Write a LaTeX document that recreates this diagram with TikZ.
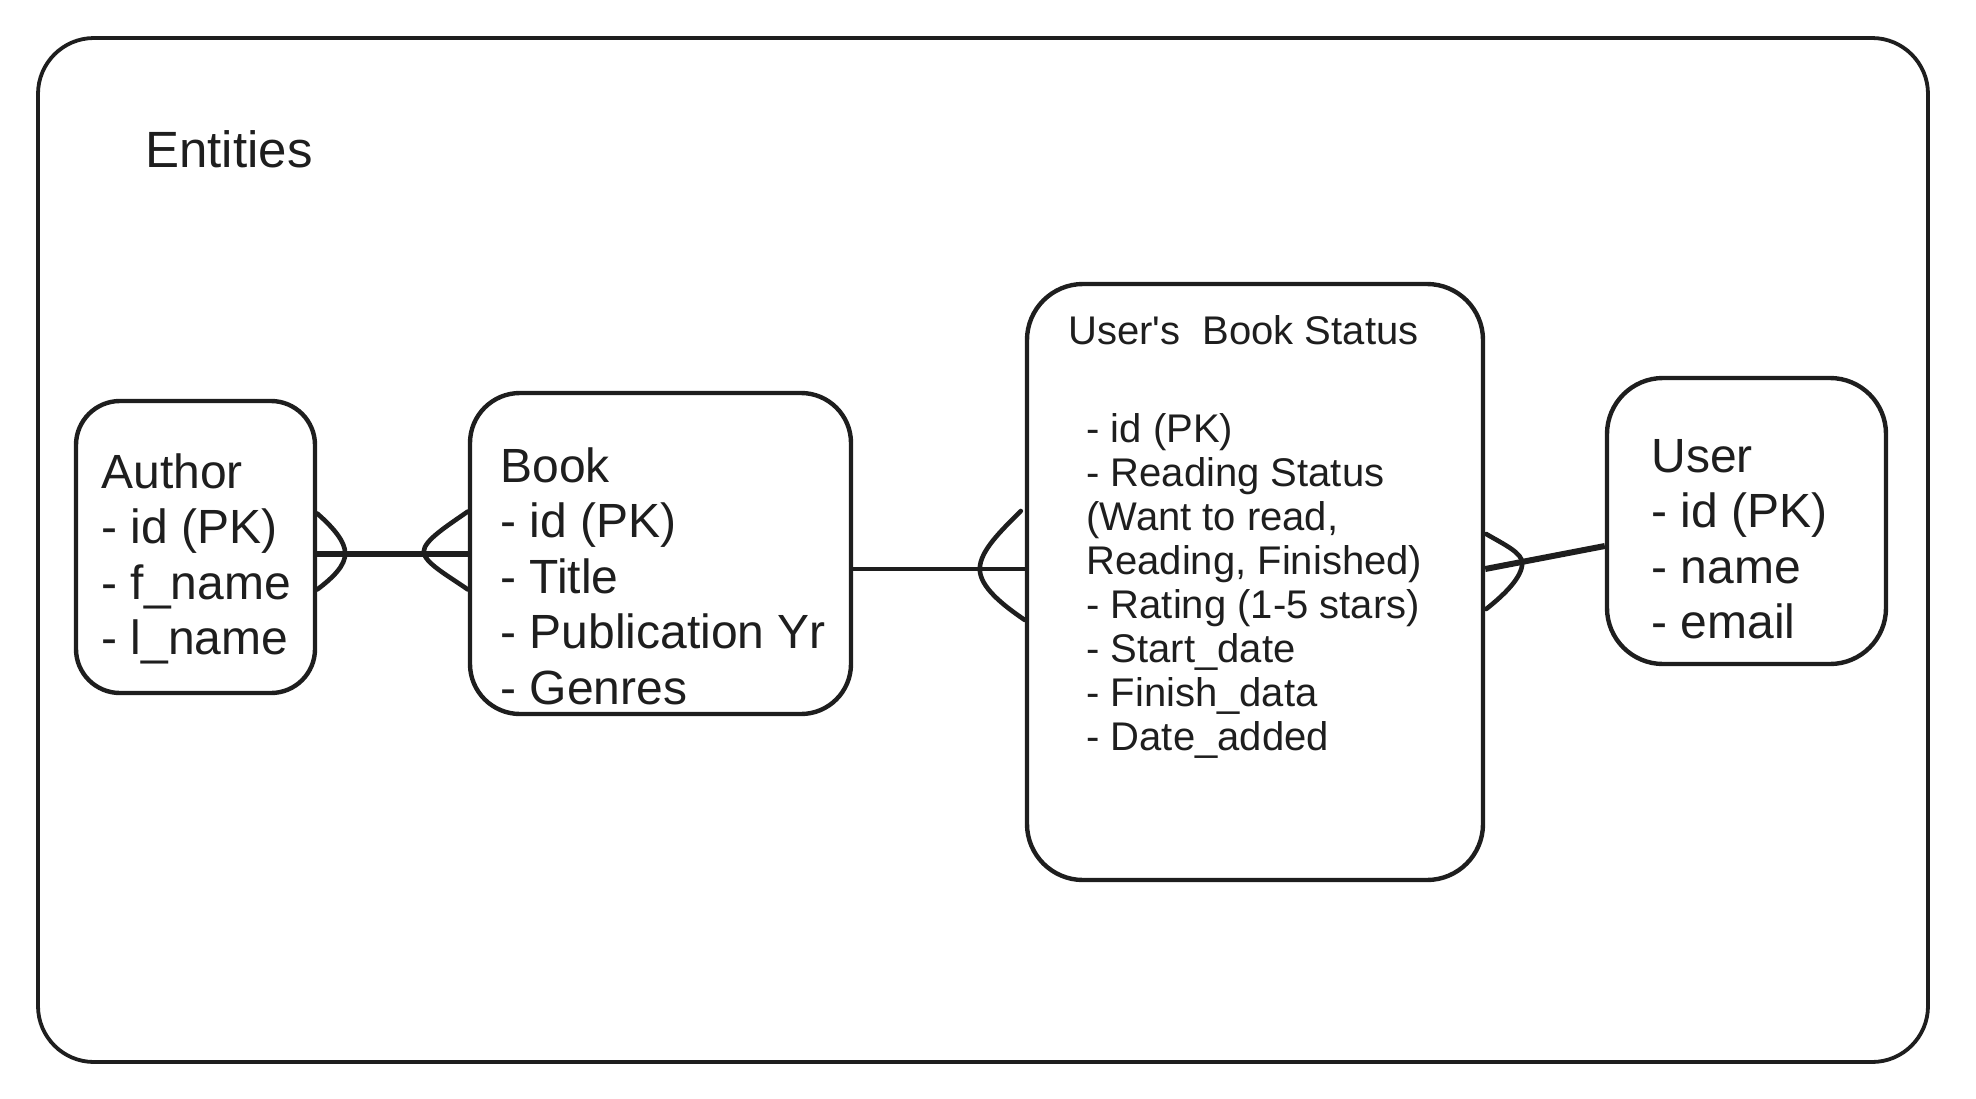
\documentclass[tikz,border=0pt]{standalone}
\usepackage{fontspec}
\setmainfont{Liberation Sans}
\usetikzlibrary{positioning, fit}
\definecolor{ink}{HTML}{1E1E1E}

\begin{document}
\begin{tikzpicture}[
			x=0.5pt, y=-0.5pt,
			frame/.style={
				draw=ink,
				line width=1.9pt,
				rounded corners=28pt,
				inner sep=0pt
			},
			entity/.style={
				draw=ink,
				line width=2.2pt,
				inner sep=0pt
			},
			fields/.style={
				text=ink,
				align=left,
				inner sep=0pt,
				anchor=north west,
				font=\fontsize{24}{27.75}\selectfont
			},
			smallfields/.style={fields, font=\fontsize{20}{22}\selectfont},
			rel/.style={draw=ink, line width=3pt},
			thinrel/.style={draw=ink, line width=1.8pt},
			crow/.style={draw=ink, line width=2.3pt, line cap=round}
			]
			
			\useasboundingbox (0,0) rectangle (1976,1098);
			\node[frame, fit={(38,38) (1928,1062)}] (frame) {};
			\node[fields, anchor=west, font=\fontsize{25.5}{28}\selectfont] (entities) at (145,149) {Entities};
			
			\node[entity, rounded corners=22pt, fit={(76,401) (315,693)}] (author) {};
			\node[entity, rounded corners=25pt, fit={(470,393) (851,714)}] (book) {};
			\node[entity, rounded corners=28pt, fit={(1027,284) (1483,880)}] (status) {};
			\node[entity, rounded corners=28pt, fit={(1607,378) (1886,664)}] (user) {};
			
			\node[fields] (authortxt) at (101,453) {Author\\- id (PK)\\- f\_name\\- l\_name};
			\node[fields] (booktxt) at (500,447) {Book\\- id (PK)\\- Title\\- Publication Yr\\- Genres};
			\node[smallfields, anchor=west] (statustitle) at (1068,330) {User\textquotesingle s\ \ Book Status};
			\node[smallfields] (statustxt) at (1086,413) {- id (PK)\\- Reading Status\\(Want to read,\\Reading, Finished)\\- Rating (1-5 stars)\\- Start\_date\\- Finish\_data\\- Date\_added};
			\node[fields] (usertxt) at (1651,439) {User\\- id (PK)\\- name\\- email};
			
			\coordinate (ab) at (author.east |- book.west);
			\coordinate (bs) at ([yshift=-7.75pt]book.east);
			\coordinate (sb) at (bs -| status.west);
			\coordinate (su) at ([yshift=6.5pt]status.east);
			\coordinate (us) at ([yshift=-12.5pt]user.west);
			
			\draw[rel] (ab) -- (book.west);
			\draw[crow, shift={(ab)}] (0,-40) .. controls (16,-26) and (28,-12) .. (28,0) .. controls (28,12) and (16,24) .. (0,36);
			\draw[crow, shift={(book.west)}] (0,-42) .. controls (-20,-28) and (-44,-13) .. (-44,-2) .. controls (-44,9) and (-20,22) .. (0,36);
			
			\draw[thinrel] (bs) -- (sb);
			\draw[crow, shift={(sb)}] (-4,-58) .. controls (-24,-38) and (-45,-18) .. (-45,0) .. controls (-45,18) and (-22,36) .. (0,51);
			
			\draw[rel] (su) -- (us);
			\draw[crow, shift={(su)}] (1,-35) .. controls (20,-24) and (37,-16) .. (37,-6) .. controls (37,8) and (20,25) .. (1,40);
			
		\end{tikzpicture}
\end{document}
